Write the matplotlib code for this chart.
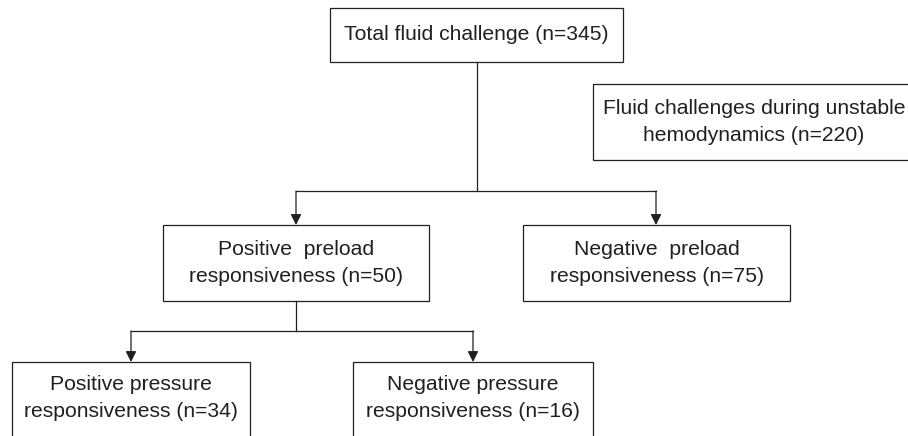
import matplotlib
matplotlib.use("Agg")
import matplotlib.pyplot as plt
from matplotlib.patches import Rectangle

# node texts and counts
total_label = "Total fluid challenge"
total_n = 345
unstable_label = "Fluid challenges during unstable\nhemodynamics"
unstable_n = 220
preload_labels = ["Positive  preload\nresponsiveness", "Negative  preload\nresponsiveness"]
preload_n = [50, 75]
pressure_labels = ["Positive pressure\nresponsiveness", "Negative pressure\nresponsiveness"]
pressure_n = [34, 16]

INK = "#231f20"
FONT = ["Liberation Sans", "DejaVu Sans"]
FS = 15.2

# layout in pixels: (left, top, right, bottom)
BOX_TOTAL = (330, 8, 623, 62)
BOX_UNSTABLE = (593, 84, 915, 160)
BOX_PRELOAD = [(163, 225, 429, 301), (523, 225, 790, 301)]
BOX_PRESSURE = [(12, 362, 250, 460), (353, 362, 593, 460)]


def draw_box(ax, box, text, center_y=None):
    x0, y0, x1, y1 = box
    ax.add_patch(Rectangle((x0, y0), x1 - x0, y1 - y0, fill=False,
                           edgecolor=INK, linewidth=0.9))
    cy = (y0 + y1) / 2 if center_y is None else center_y
    ax.text((x0 + x1) / 2, cy, text, ha="center", va="center",
            fontsize=FS, color=INK, family=FONT, linespacing=1.55)


def arrow(ax, x, y_from, y_to):
    ax.annotate("", xy=(x, y_to), xytext=(x, y_from),
                arrowprops=dict(arrowstyle="-|>", color=INK, lw=0.9,
                                mutation_scale=16, shrinkA=0, shrinkB=0))


def branch(ax, parent_x, y_start, y_bar, child_xs, y_end):
    ax.plot([parent_x, parent_x], [y_start, y_bar], color=INK, lw=0.9)
    ax.plot([child_xs[0], child_xs[1]], [y_bar, y_bar], color=INK, lw=0.9)
    for cx in child_xs:
        arrow(ax, cx, y_bar, y_end)


fig = plt.figure(figsize=(9.08, 4.36), dpi=100)
ax = fig.add_axes([0, 0, 1, 1])
ax.set_xlim(0, 908)
ax.set_ylim(436, 0)
ax.axis("off")

draw_box(ax, BOX_TOTAL, f"{total_label} (n={total_n})")
draw_box(ax, BOX_UNSTABLE, f"{unstable_label} (n={unstable_n})")
for box, lab, n in zip(BOX_PRELOAD, preload_labels, preload_n):
    draw_box(ax, box, f"{lab} (n={n})")
for box, lab, n in zip(BOX_PRESSURE, pressure_labels, pressure_n):
    draw_box(ax, box, f"{lab} (n={n})", center_y=398)

branch(ax, 477, BOX_TOTAL[3], 191, [296, 656], BOX_PRELOAD[0][1])
branch(ax, 296, BOX_PRELOAD[0][3], 331, [131, 473], BOX_PRESSURE[0][1])

fig.savefig("out.png", dpi=100)
